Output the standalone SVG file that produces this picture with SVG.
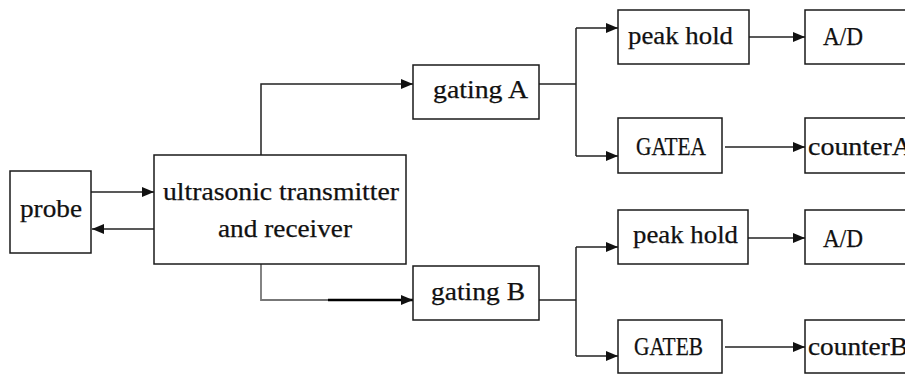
<svg xmlns="http://www.w3.org/2000/svg" width="905" height="374" viewBox="0 0 905 374">
  <style>
    .box { fill: #fff; stroke: #1a1a1a; stroke-width: 1.5; }
    .lbl { font-family: 'Liberation Serif', 'Times New Roman', serif; font-size: 25px; fill: #111; stroke: #111; stroke-width: 0.25; }
    .wire { fill: none; stroke: #222; stroke-width: 1.5; }
  </style>
  <defs>
    <marker id="arrow" markerUnits="userSpaceOnUse" markerWidth="14" markerHeight="12" refX="12" refY="6" orient="auto">
      <path d="M0,1 L12,6 L0,11 z" fill="#111"/>
    </marker>
  </defs>

  <!-- connectors -->
  <g id="connectors">
    <path class="wire" d="M91 192 H154" marker-end="url(#arrow)"/>
    <path class="wire" d="M156 229 H92" marker-end="url(#arrow)"/>
    <path class="wire" d="M261 155 V84 H413" marker-end="url(#arrow)"/>
    <path class="wire" d="M261 264 V300 H330" style="stroke:#777;stroke-width:1.8"/>
    <path class="wire" d="M328 300 H413" style="stroke:#000;stroke-width:2.6" marker-end="url(#arrow)"/>
    <path class="wire" d="M539 84 H576"/>
    <path class="wire" d="M576 28 V156"/>
    <path class="wire" d="M576 28 H618" marker-end="url(#arrow)"/>
    <path class="wire" d="M576 156 H618" marker-end="url(#arrow)"/>
    <path class="wire" d="M749 37 H805" marker-end="url(#arrow)"/>
    <path class="wire" d="M725 147 H805" marker-end="url(#arrow)"/>
    <path class="wire" d="M539 300 H576"/>
    <path class="wire" d="M576 247 V356"/>
    <path class="wire" d="M576 247 H618" marker-end="url(#arrow)"/>
    <path class="wire" d="M576 356 H618" marker-end="url(#arrow)"/>
    <path class="wire" d="M748 238 H805" marker-end="url(#arrow)"/>
    <path class="wire" d="M725 347 H805" marker-end="url(#arrow)"/>
  </g>

  <g id="probe">
    <rect class="box" x="10" y="171" width="81" height="82"/>
    <text class="lbl" x="20" y="217" textLength="62" lengthAdjust="spacingAndGlyphs">probe</text>
  </g>

  <g id="transceiver">
    <rect class="box" x="154" y="155" width="252" height="109"/>
    <text class="lbl" x="163" y="200" textLength="236" lengthAdjust="spacingAndGlyphs">ultrasonic transmitter</text>
    <text class="lbl" x="218" y="237" textLength="134" lengthAdjust="spacingAndGlyphs">and receiver</text>
  </g>

  <g id="gating-a">
    <rect class="box" x="413" y="65" width="126" height="54"/>
    <text class="lbl" x="433" y="98" textLength="95" lengthAdjust="spacingAndGlyphs">gating  A</text>
  </g>

  <g id="peak-hold-a">
    <rect class="box" x="618" y="10" width="131" height="54"/>
    <text class="lbl" x="628" y="44" textLength="105" lengthAdjust="spacingAndGlyphs">peak hold</text>
  </g>

  <g id="ad-a">
    <rect class="box" x="805" y="10" width="110" height="54"/>
    <text class="lbl" x="823" y="45" textLength="40" lengthAdjust="spacingAndGlyphs">A/D</text>
  </g>

  <g id="gate-a">
    <rect class="box" x="618" y="118" width="104" height="55"/>
    <text class="lbl" x="636" y="155" textLength="70" lengthAdjust="spacingAndGlyphs">GATEA</text>
  </g>

  <g id="counter-a">
    <rect class="box" x="805" y="118" width="110" height="55"/>
    <text class="lbl" x="808" y="155" textLength="104" lengthAdjust="spacingAndGlyphs">counterA</text>
  </g>

  <g id="gating-b">
    <rect class="box" x="413" y="266" width="126" height="54"/>
    <text class="lbl" x="431" y="300" textLength="94" lengthAdjust="spacingAndGlyphs">gating  B</text>
  </g>

  <g id="peak-hold-b">
    <rect class="box" x="618" y="210" width="130" height="54"/>
    <text class="lbl" x="633" y="243" textLength="105" lengthAdjust="spacingAndGlyphs">peak hold</text>
  </g>

  <g id="ad-b">
    <rect class="box" x="805" y="210" width="110" height="54"/>
    <text class="lbl" x="823" y="247" textLength="40" lengthAdjust="spacingAndGlyphs">A/D</text>
  </g>

  <g id="gate-b">
    <rect class="box" x="618" y="320" width="104" height="53"/>
    <text class="lbl" x="634" y="355" textLength="69" lengthAdjust="spacingAndGlyphs">GATEB</text>
  </g>

  <g id="counter-b">
    <rect class="box" x="805" y="320" width="110" height="53"/>
    <text class="lbl" x="808" y="355" textLength="100" lengthAdjust="spacingAndGlyphs">counterB</text>
  </g>
</svg>
